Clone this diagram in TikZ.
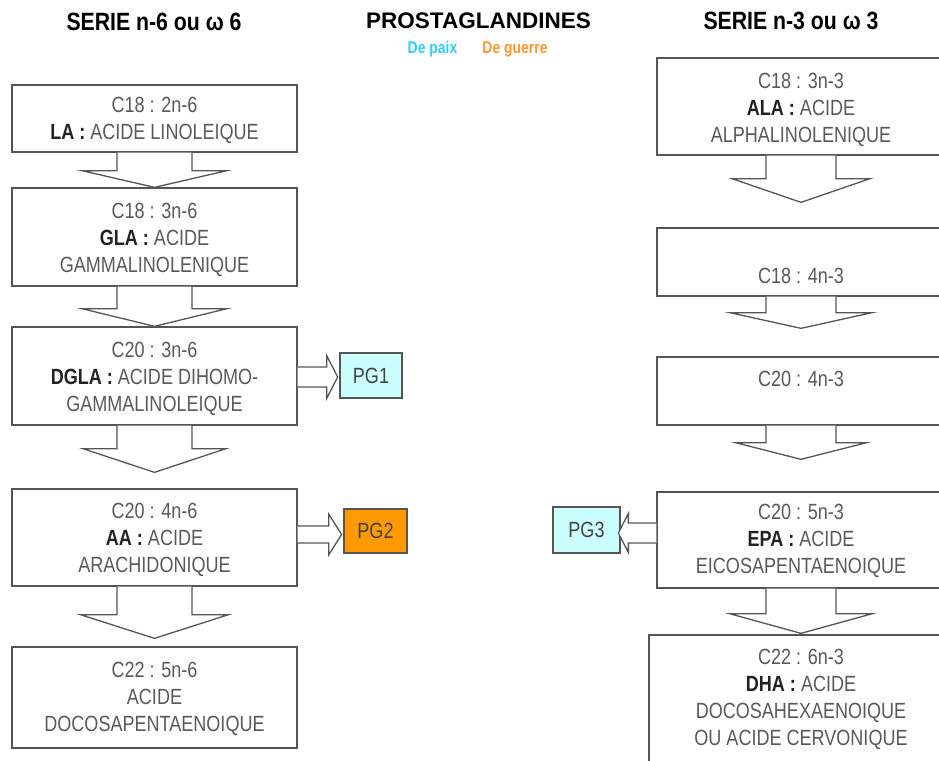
\documentclass[tikz,border=0pt]{standalone}
\usepackage{fontspec}
\setmainfont{Liberation Sans}
\newfontfamily\boxfont{Liberation Sans}[FakeStretch=0.82]
\newfontfamily\titlefont{Liberation Sans}[FakeStretch=0.85]
\usetikzlibrary{calc}
\definecolor{txtgray}{HTML}{5A5A5A}
\definecolor{linegray}{HTML}{555555}
\definecolor{darktxt}{HTML}{222222}
\definecolor{pgcyan}{HTML}{CCFFFF}
\definecolor{pgorange}{HTML}{FF9900}
\definecolor{paixcol}{HTML}{33CCFF}
\definecolor{guerrecol}{HTML}{FF9933}
\newcommand\bld[1]{{\bfseries\color{darktxt}#1}}
% block arrow downwards: #1 source box, #2 target box, #3 shaft length, #4 wing half width, #5 gap above target, #6 shaft half width
\newcommand\blockdown[6]{%
  \draw[blockarrow] ($(#1.south)+(-#6,0)$) -- ++(0,#3) -- ++({-(#4-#6)},0)
    -- ($(#2.north)+(0,-#5)$) -- ($(#1.south)+(#4,#3)$) -- ++({-(#4-#6)},0)
    -- ($(#1.south)+(#6,0)$);}
% block arrow sideways: #1 start coordinate, #2 direction, #3 head base distance, #4 shaft half, #5 wing half, #6 tip distance
\newcommand\blockside[6]{%
  \draw[blockarrow] ($(#1)+(0,-#4)$) -- ($(#1)+({#2*#3},-#4)$) -- ($(#1)+({#2*#3},-#5)$)
    -- ($(#1)+({#2*#6},0)$) -- ($(#1)+({#2*#3},#5)$) -- ($(#1)+({#2*#3},#4)$)
    -- ($(#1)+(0,#4)$);}
\begin{document}
\begin{tikzpicture}[x=1pt,y=-1pt,
  acidbox/.style={draw=linegray, line width=1.3pt, fill=white, rectangle, inner sep=0pt},
  acidtext/.style={inner sep=0pt, align=center, text=txtgray, font=\boxfont\fontsize{22}{27}\selectfont},
  pgbox/.style={draw=linegray, line width=1.3pt, rectangle, inner sep=0pt,
    text=darktxt!85, font=\boxfont\fontsize{22}{27}\selectfont},
  blockarrow/.style={draw=linegray, line width=1.3pt, fill=white, line join=miter},
  maintitle/.style={inner sep=0pt, anchor=base, text=black, font=\titlefont\bfseries\fontsize{25}{30}\selectfont},
  midtitle/.style={inner sep=0pt, anchor=base, text=black, font=\bfseries\fontsize{22.5}{27}\selectfont},
  subtitle/.style={inner sep=0pt, anchor=base, font=\boxfont\bfseries\fontsize{17}{20}\selectfont}
]
\fill[white] (0,0) rectangle (939,760);
\clip (0,0) rectangle (939,760);

% titles
\node[maintitle] (T1) at (154,31) {SERIE n-6 ou ω 6};
\node[midtitle] (T2) at (478.5,29) {PROSTAGLANDINES};
\node[maintitle] (T3) at (791,30) {SERIE n-3 ou ω 3};
\node[subtitle, text=paixcol] (S1) at (432.5,53) {De paix};
\node[subtitle, text=guerrecol] (S2) at (515,53) {De guerre};

% left column
\node[acidbox, minimum width=285pt, minimum height=67pt] (L1) at (154.5,118.5) {};
\node[acidtext] (L1t) at ($(L1)+(0,2)$) {C18 : 2n-6\\\bld{LA :} ACIDE LINOLEIQUE};
\node[acidbox, minimum width=285pt, minimum height=98pt] (L2) at (154.5,237) {};
\node[acidtext] (L2t) at ($(L2)+(0,3)$) {C18 : 3n-6\\\bld{GLA :} ACIDE\\GAMMALINOLENIQUE};
\node[acidbox, minimum width=285pt, minimum height=98pt] (L3) at (154.5,376) {};
\node[acidtext] (L3t) at ($(L3)+(0,3)$) {C20 : 3n-6\\\bld{DGLA :} ACIDE DIHOMO-\\GAMMALINOLEIQUE};
\node[acidbox, minimum width=285pt, minimum height=97pt] (L4) at (154.5,537.5) {};
\node[acidtext] (L4t) at ($(L4)+(0,2)$) {C20 : 4n-6\\\bld{AA :} ACIDE\\ARACHIDONIQUE};
\node[acidbox, minimum width=285pt, minimum height=101pt] (L5) at (154.5,697.5) {};
\node[acidtext] (L5t) at ($(L5)+(0,1)$) {C22 : 5n-6\\ACIDE\\DOCOSAPENTAENOIQUE};

% right column
\node[acidbox, minimum width=288pt, minimum height=97pt] (R1) at (801,106.5) {};
\node[acidtext] (R1t) at ($(R1)+(0,3)$) {C18 : 3n-3\\\bld{ALA :} ACIDE\\ALPHALINOLENIQUE};
\node[acidbox, minimum width=288pt, minimum height=68pt] (R2) at (801,262) {};
\node[acidtext] (R2t) at (801,276) {C18 : 4n-3};
\node[acidbox, minimum width=288pt, minimum height=68pt] (R3) at (801,391) {};
\node[acidtext] (R3t) at (801,379) {C20 : 4n-3};
\node[acidbox, minimum width=288pt, minimum height=96pt] (R4) at (801,540) {};
\node[acidtext] (R4t) at ($(R4)+(0,1)$) {C20 : 5n-3\\\bld{EPA :} ACIDE\\EICOSAPENTAENOIQUE};
\node[acidbox, minimum width=304pt, minimum height=150pt] (R5) at (801,710) {};
\node[acidtext] (R5t) at (801,699)
  {C22 : 6n-3\\\bld{DHA :} ACIDE\\DOCOSAHEXAENOIQUE\\OU ACIDE CERVONIQUE};

% prostaglandin boxes
\node[pgbox, fill=pgcyan, minimum width=62pt, minimum height=45pt] (PG1) at (371,375.5) {PG1};
\node[pgbox, fill=pgorange, minimum width=63pt, minimum height=44pt] (PG2) at (375.5,531) {PG2};
\node[pgbox, fill=pgcyan, minimum width=67pt, minimum height=46pt] (PG3) at (586.5,530) {PG3};

% downward block arrows
\blockdown{L1}{L2}{18}{72.5}{0}{37.5}
\blockdown{L2}{L3}{22}{72.5}{0}{37.5}
\blockdown{L3}{L4}{23}{71.5}{16}{37.5}
\blockdown{L4}{L5}{28}{74}{8}{37.5}
\blockdown{R1}{R2}{23}{69}{25}{35}
\blockdown{R2}{R3}{16}{71}{28}{35}
\blockdown{R3}{R4}{17}{65.5}{32}{35}
\blockdown{R4}{R5}{25}{71.5}{1}{35}

% sideways block arrows
\coordinate (s1) at ($(L3.east)+(0,1)$);
\coordinate (s2) at ($(L4.east)+(0,-3)$);
\coordinate (s3) at ($(R4.west)+(0,-7)$);
\blockside{s1}{1}{29}{10}{21.5}{40}
\blockside{s2}{1}{31}{8.5}{20.5}{44}
\blockside{s3}{-1}{28}{10}{19.5}{38}
\end{tikzpicture}
\end{document}
